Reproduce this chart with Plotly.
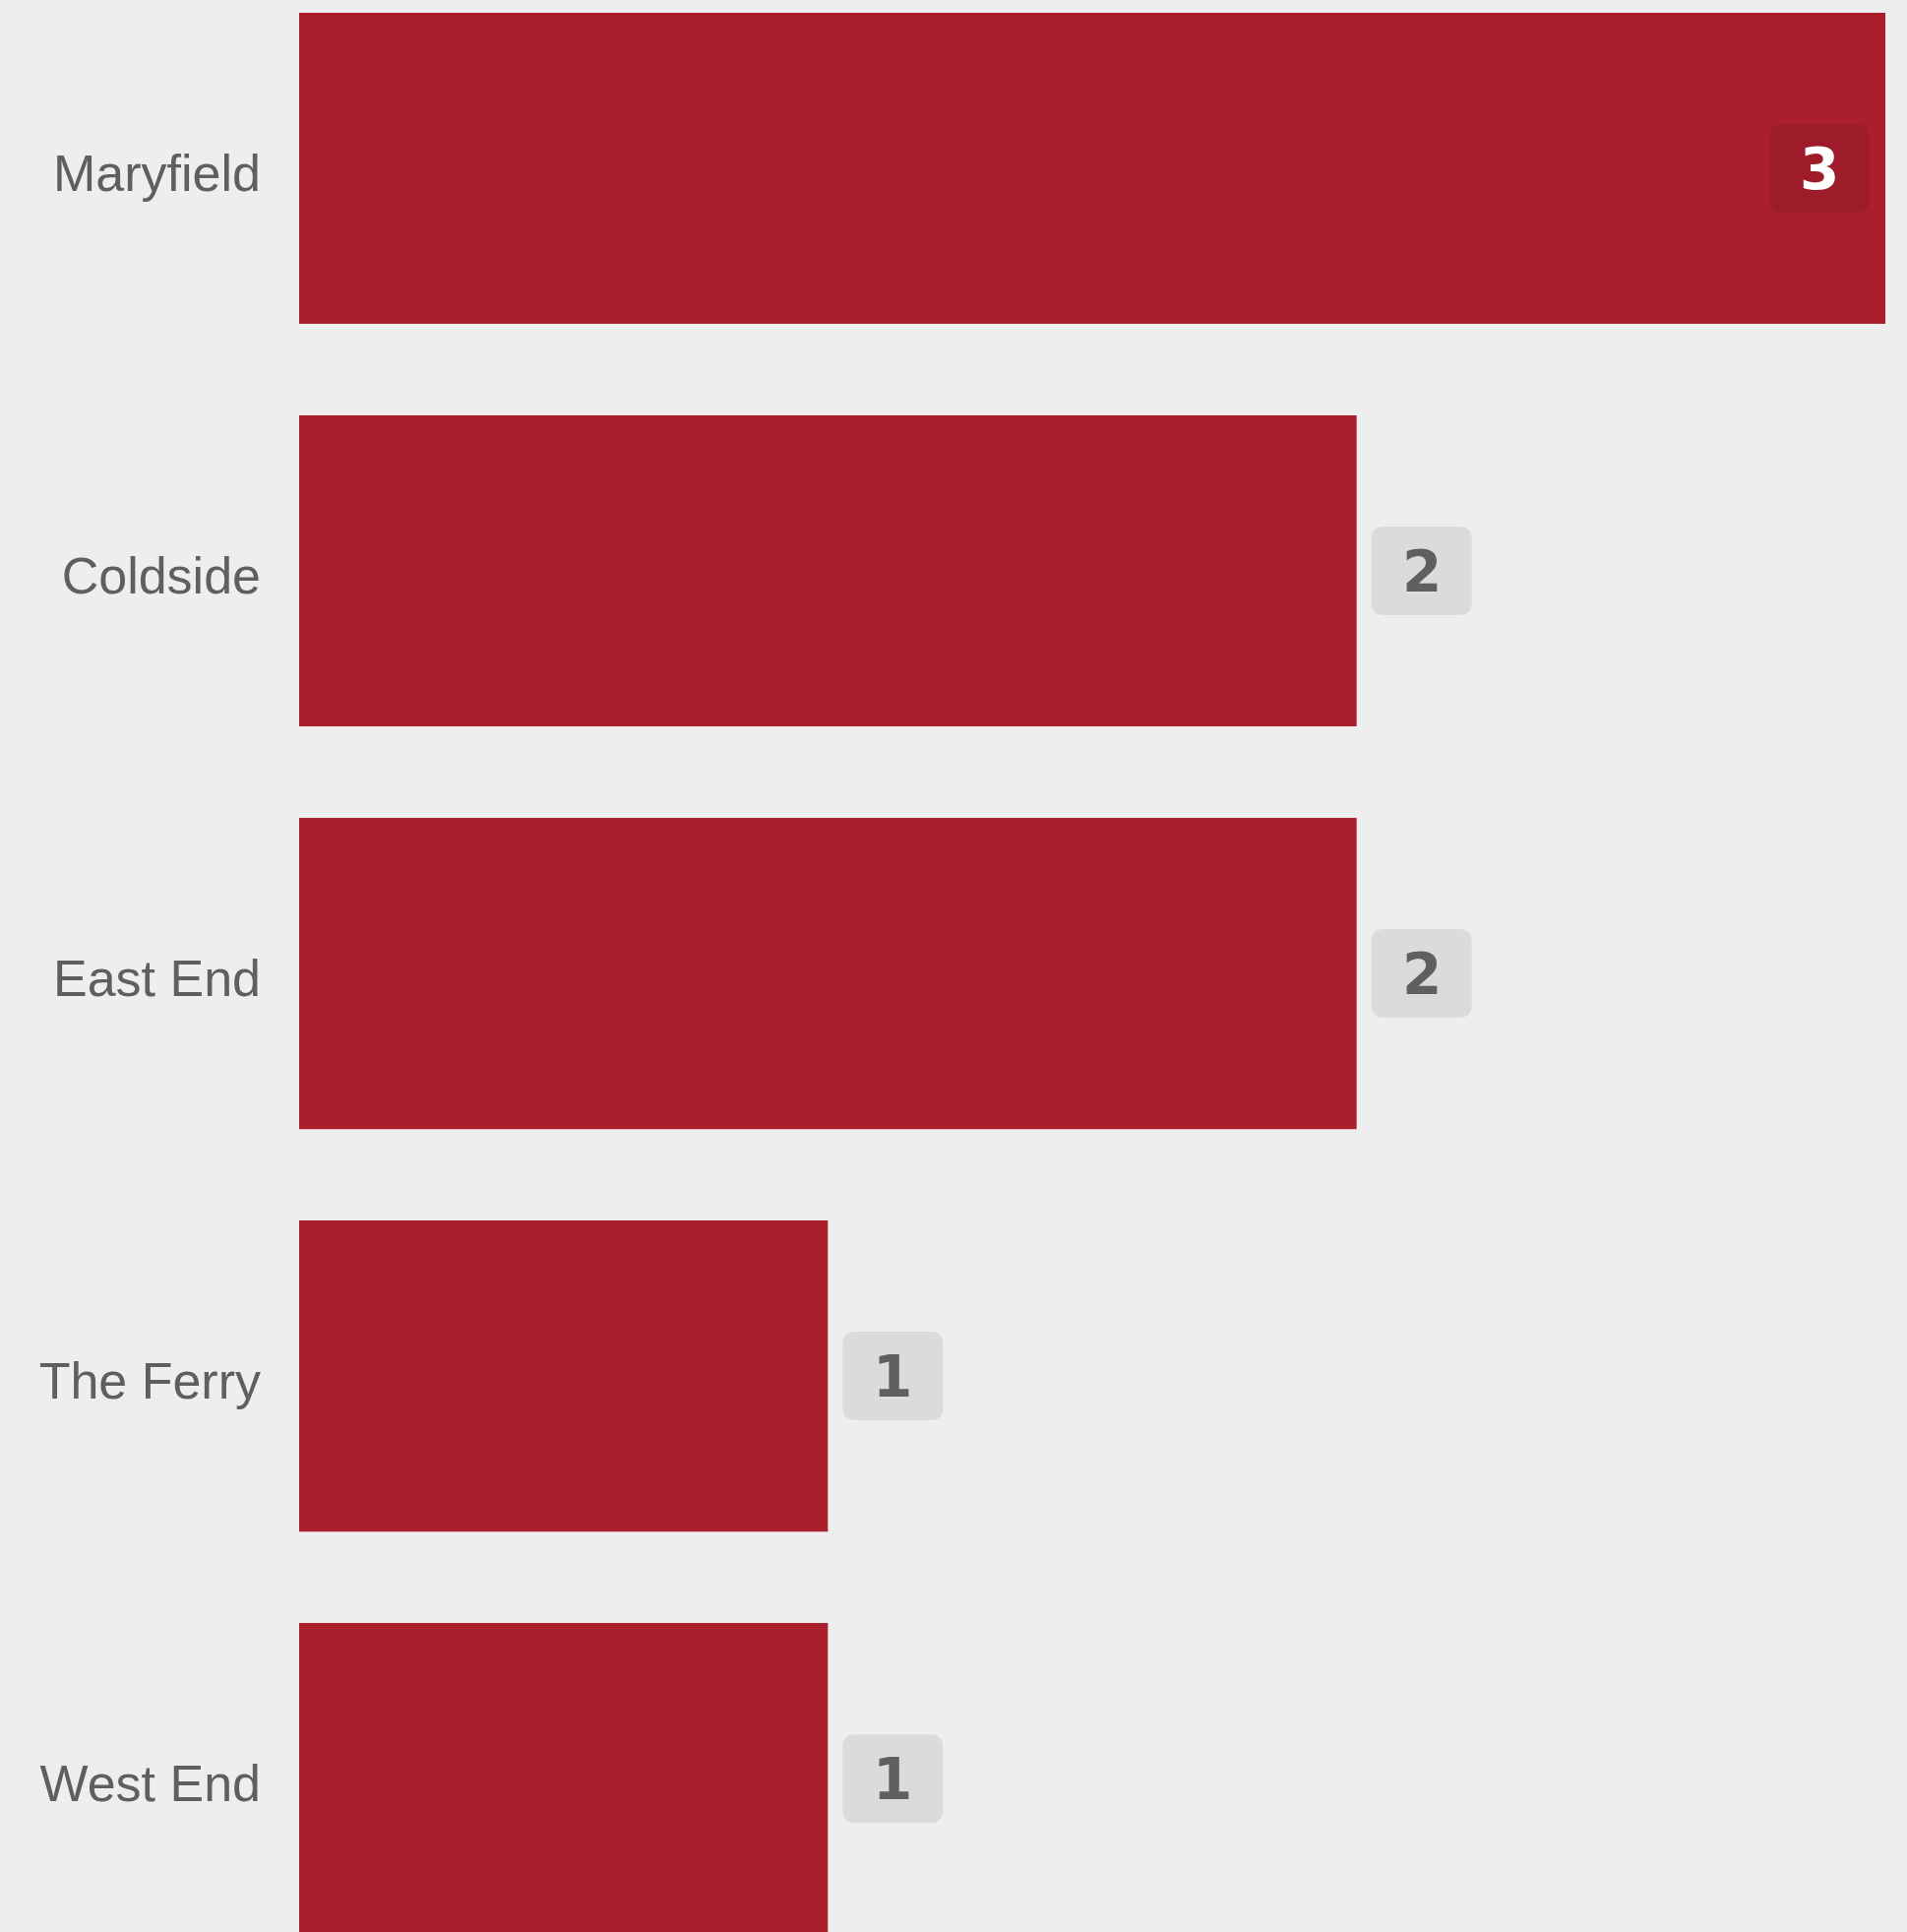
import plotly.graph_objects as go

categories = ["Maryfield", "Coldside", "East End", "The Ferry", "West End"]
values = [3, 2, 2, 1, 1]

BAR = "#AB1F2D"
BG = "#EEEEEE"
GREY = "#5F5F5F"

vmax = max(values)

fig = go.Figure(go.Bar(
    x=values, y=categories, orientation="h",
    marker=dict(color=BAR, line=dict(width=0)),
    hoverinfo="skip",
))

def rounded_path(x0, x1, y0, y1, r):
    return (f"M{x0+r},{y0} L{x1-r},{y0} Q{x1},{y0} {x1},{y0+r} "
            f"L{x1},{y1-r} Q{x1},{y1} {x1-r},{y1} L{x0+r},{y1} "
            f"Q{x0},{y1} {x0},{y1-r} L{x0},{y0+r} Q{x0},{y0} {x0+r},{y0} Z")

shapes = []
annotations = []
for i, (c, v) in enumerate(zip(categories, values)):
    inside = (v == vmax)
    if inside:
        bx0, bx1 = -118, -16
        fill = "rgba(0,0,0,0.07)"
        tcol = "white"
    else:
        bx0, bx1 = 15, 117
        fill = "rgba(0,0,0,0.08)"
        tcol = GREY
    shapes.append(dict(
        type="path", xref="x", yref="y",
        xsizemode="pixel", ysizemode="pixel",
        xanchor=v, yanchor=i,
        path=rounded_path(bx0, bx1, -45, 45, 13),
        fillcolor=fill, line=dict(width=0), layer="above",
    ))
    annotations.append(dict(
        x=v, y=c, xref="x", yref="y",
        xshift=(bx0 + bx1) / 2, yshift=-1,
        text=str(v), showarrow=False,
        xanchor="center", yanchor="middle",
        font=dict(family="DejaVu Sans", size=58, color=tcol, weight="bold"),
    ))

fig.update_layout(
    width=1938, height=1963,
    margin=dict(l=304, r=22, t=0, b=0),
    paper_bgcolor=BG, plot_bgcolor=BG,
    bargap=0.227,
    showlegend=False,
    shapes=shapes,
    annotations=annotations,
    xaxis=dict(range=[0, vmax], showgrid=False, zeroline=False,
               showticklabels=False, ticks=""),
    yaxis=dict(range=[4.381, -0.418], showgrid=False, zeroline=False,
               ticks="", ticklabelstandoff=38, ticklabelshift=-5,
               tickfont=dict(family="Liberation Sans", size=52, color=GREY)),
)

fig.write_html(
    "out.html",
    config={"displayModeBar": False},
    post_script="document.body.style.margin='0';document.body.style.background='#EEEEEE';",
)
